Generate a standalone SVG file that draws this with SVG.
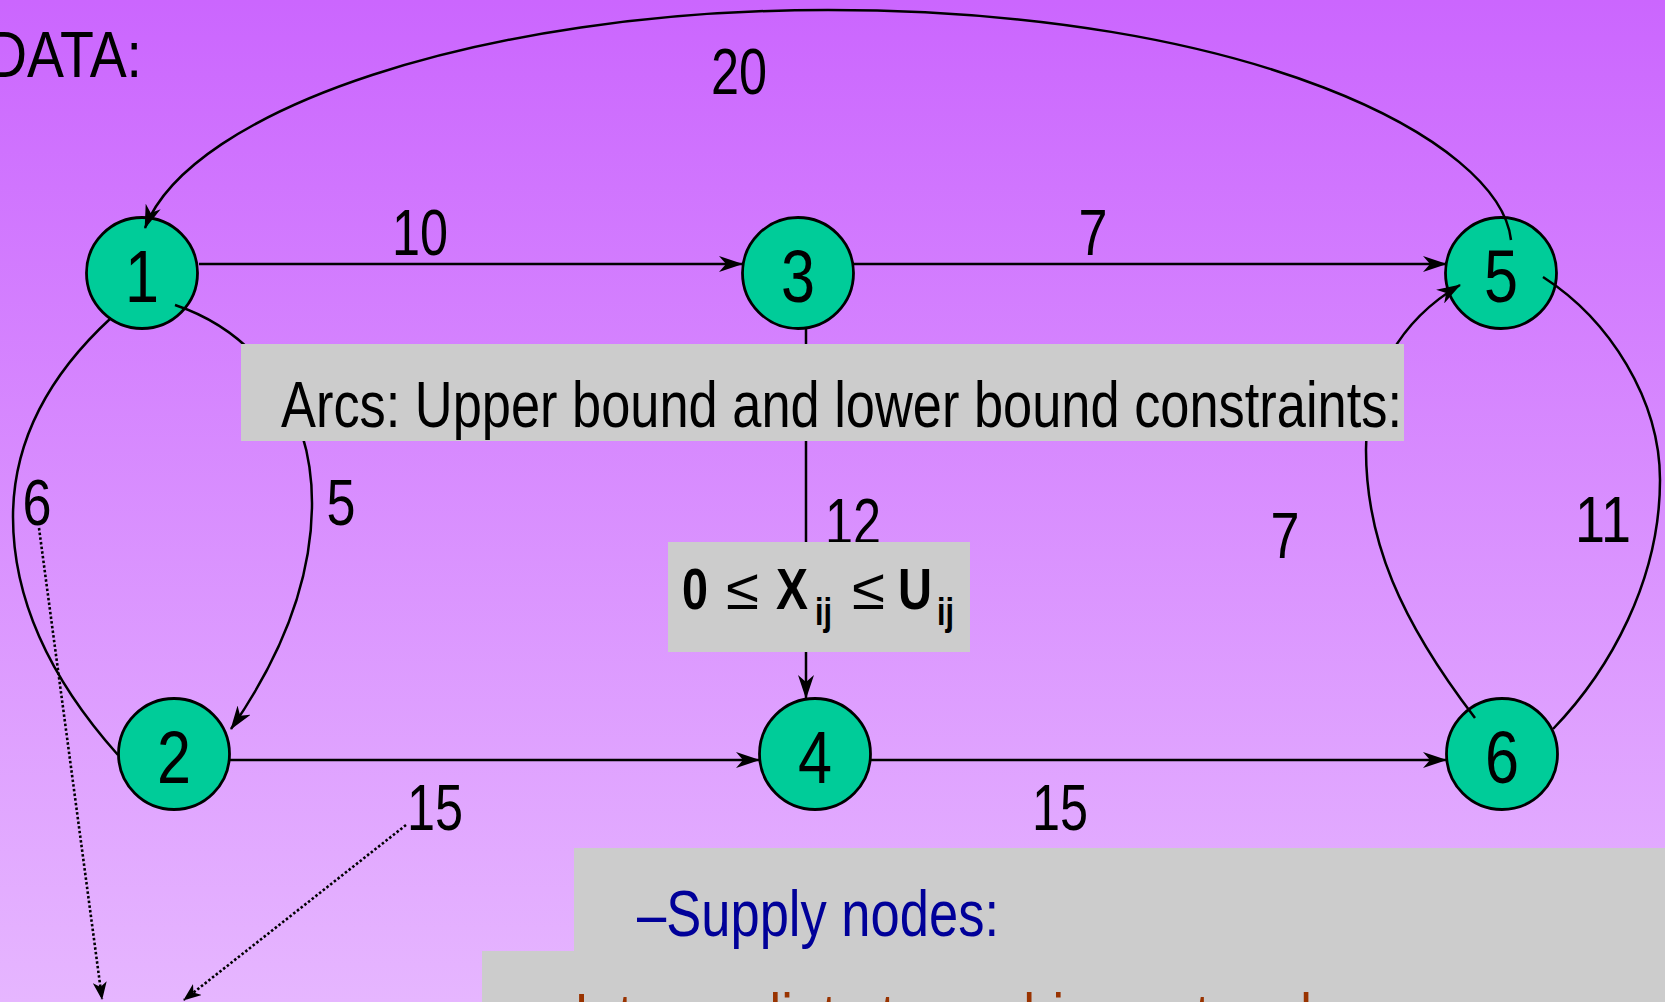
<svg xmlns="http://www.w3.org/2000/svg" width="1665" height="1002" viewBox="0 0 1665 1002">
<defs>
  <linearGradient id="bg" x1="0" y1="0" x2="0" y2="1">
    <stop offset="0" stop-color="#CB66FE"/>
    <stop offset="1" stop-color="#E6B6FF"/>
  </linearGradient>
  <marker id="arr" markerUnits="userSpaceOnUse" viewBox="0 0 24 16" refX="23" refY="8" markerWidth="24" markerHeight="16" orient="auto">
    <path d="M0,0 L24,8 L0,16 L7,8 z" fill="#000"/>
  </marker>
  <marker id="arrS" markerUnits="userSpaceOnUse" viewBox="0 0 18 14" refX="17" refY="7" markerWidth="18" markerHeight="14" orient="auto">
    <path d="M0,0 L18,7 L0,14 L5,7 z" fill="#000"/>
  </marker>
</defs>
<style>
  .t{font-family:"Liberation Sans Narrow","Arial Narrow","Liberation Sans",Arial,sans-serif;font-size:64px;fill:#000}
  .lbl{text-anchor:middle}
  .node circle{fill:#00CC99;stroke:#000;stroke-width:2.8}
  .node text{font-size:74px;text-anchor:middle}
  .edge{fill:none;stroke:#000;stroke-width:2.5}
  .dot{stroke-dasharray:2.5 2.2;stroke-width:2.6}
  .box{fill:#CCCCCC}
  .f{font-size:58px;font-weight:bold}
  .fs{font-size:38px;font-weight:bold}
  .op{font-size:58px}
</style>
<rect x="0" y="0" width="1665" height="1002" fill="url(#bg)"/>
<text class="t" x="-13" y="77" textLength="155" lengthAdjust="spacingAndGlyphs">DATA:</text>

<g id="node1" class="node"><circle cx="142" cy="273" r="55.5"/><text class="t" x="142" y="302" textLength="34" lengthAdjust="spacingAndGlyphs">1</text></g>
<g id="node3" class="node"><circle cx="798" cy="273" r="55.5"/><text class="t" x="798" y="302" textLength="34" lengthAdjust="spacingAndGlyphs">3</text></g>
<g id="node5" class="node"><circle cx="1501" cy="273" r="55.5"/><text class="t" x="1501" y="302" textLength="34" lengthAdjust="spacingAndGlyphs">5</text></g>
<g id="node2" class="node"><circle cx="174" cy="754" r="55.5"/><text class="t" x="174" y="783" textLength="34" lengthAdjust="spacingAndGlyphs">2</text></g>
<g id="node4" class="node"><circle cx="815" cy="754" r="55.5"/><text class="t" x="815" y="783" textLength="34" lengthAdjust="spacingAndGlyphs">4</text></g>
<g id="node6" class="node"><circle cx="1502" cy="754" r="55.5"/><text class="t" x="1502" y="783" textLength="34" lengthAdjust="spacingAndGlyphs">6</text></g>

<g id="connectors">
  <path class="edge" d="M199,264 L742,264" marker-end="url(#arr)"/>
  <path class="edge" d="M853,264 L1446,264" marker-end="url(#arr)"/>
  <path class="edge" d="M230,760 L759,760" marker-end="url(#arr)"/>
  <path class="edge" d="M871,760 L1446,760" marker-end="url(#arr)"/>
  <path class="edge" d="M806,328 L806,698" marker-end="url(#arr)"/>
  <path class="edge" d="M1511,240 C1500,140 1250,10 828,10 C480,10 190,110 145,228" marker-end="url(#arr)"/>
  <path class="edge" d="M111,318 C60,365 13,430 13,517 C13,610 60,690 118,755"/>
  <path class="edge" d="M175,305 C250,330 312,400 312,503 C312,600 265,680 231,729" marker-end="url(#arr)"/>
  <path class="edge" d="M1475,718 C1400,620 1366,540 1366,450 C1366,380 1400,320 1460,285" marker-end="url(#arr)"/>
  <path class="edge" d="M1543,277 C1610,320 1660,400 1660,480 C1660,580 1610,670 1553,729"/>
  <path class="edge dot" d="M39,528 L102,999" marker-end="url(#arrS)"/>
  <path class="edge dot" d="M406,825 L184,1000" marker-end="url(#arrS)"/>
</g>

<g id="labels">
  <text class="t lbl" x="739" y="94" textLength="56" lengthAdjust="spacingAndGlyphs">20</text>
  <text class="t lbl" x="420" y="255" textLength="56" lengthAdjust="spacingAndGlyphs">10</text>
  <text class="t lbl" x="1093" y="255" textLength="29" lengthAdjust="spacingAndGlyphs">7</text>
  <text class="t lbl" x="37" y="525" textLength="29" lengthAdjust="spacingAndGlyphs">6</text>
  <text class="t lbl" x="341" y="525" textLength="29" lengthAdjust="spacingAndGlyphs">5</text>
  <text class="t lbl" x="853" y="544" textLength="56" lengthAdjust="spacingAndGlyphs">12</text>
  <text class="t lbl" x="1285" y="558" textLength="29" lengthAdjust="spacingAndGlyphs">7</text>
  <text class="t lbl" x="1603" y="542" textLength="56" lengthAdjust="spacingAndGlyphs">11</text>
  <text class="t lbl" x="435" y="830" textLength="56" lengthAdjust="spacingAndGlyphs">15</text>
  <text class="t lbl" x="1060" y="830" textLength="56" lengthAdjust="spacingAndGlyphs">15</text>
</g>

<g id="arcs-box">
  <rect class="box" x="241" y="344" width="1163" height="97"/>
  <text class="t" x="281" y="427" textLength="1121" lengthAdjust="spacingAndGlyphs">Arcs: Upper bound and lower bound constraints:</text>
</g>

<g id="formula-box">
  <rect class="box" x="668" y="542" width="302" height="110"/>
  <text class="t f" x="682" y="609" textLength="26" lengthAdjust="spacingAndGlyphs">0</text>
  <text class="t op" x="726" y="609" textLength="33" lengthAdjust="spacingAndGlyphs">≤</text>
  <text class="t f" x="776" y="609" textLength="32" lengthAdjust="spacingAndGlyphs">X</text>
  <text class="t fs" x="815" y="625" textLength="17" lengthAdjust="spacingAndGlyphs">ij</text>
  <text class="t op" x="852" y="609" textLength="33" lengthAdjust="spacingAndGlyphs">≤</text>
  <text class="t f" x="898" y="609" textLength="34" lengthAdjust="spacingAndGlyphs">U</text>
  <text class="t fs" x="937" y="625" textLength="17" lengthAdjust="spacingAndGlyphs">ij</text>
</g>

<g id="notes-box">
  <rect class="box" x="574" y="848" width="1091" height="154"/>
  <rect class="box" x="482" y="951" width="1183" height="51"/>
  <text class="t" x="637" y="936" style="fill:#000099" textLength="362" lengthAdjust="spacingAndGlyphs">–Supply nodes:</text>
  <text class="t" x="545" y="1039" style="fill:#993300" textLength="837" lengthAdjust="spacingAndGlyphs">–Intermediate transshipment nodes:</text>
</g>
</svg>
